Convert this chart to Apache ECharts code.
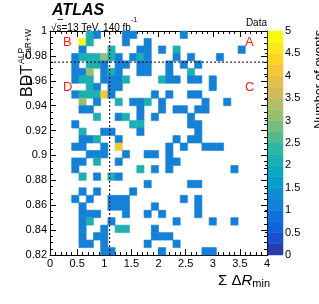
<!DOCTYPE html>
<html><head><meta charset="utf-8">
<script src="https://cdn.jsdelivr.net/npm/echarts@6/dist/echarts.min.js"></script>
<style>html,body{margin:0;padding:0;background:#fff}#c{width:319px;height:304px}</style>
</head><body><div id="c"></div>
<script>
// Binning of the 2D histogram
const xRange = [0, 4];
const yRange = [0.82, 1.0];
const nBinsX = 30;
const nBinsY = 30;
// Number of events per bin; rows from top (BDT = 1) to bottom (0.82), columns from ΣΔR = 0 to 4
const counts = [
[0,0,0,0,0,2,1,0,0,0,1,1,0,0,0,0,0,0,1,0,0,0,0,0,0,0,0,0,0,0],
[0,0,0,0,5,2,0,0,0,0,1,0,0,1,0,0,0,0,0,0,0,0,0,0,0,0,0,0,0,0],
[0,0,0,0,1,0,0,0,2,0,0,0,1,1,0,1,0,2,0,0,0,0,0,0,0,0,1,0,0,0],
[0,0,0,1,2,2,2,3,2,1,0,1,2,1,0,0,0,1,0,1,0,0,0,1,0,0,0,0,0,0],
[0,0,0,1,0,2,2,1,0,1,1,0,1,1,0,0,1,0,1,0,1,0,0,0,0,0,0,0,0,0],
[0,0,0,1,1,3,0,1,2,1,0,0,1,1,0,0,1,0,0,2,0,0,0,0,0,0,0,0,0,0],
[0,0,0,1,2,2,0,1,1,1,2,0,0,0,0,2,1,1,0,1,1,0,1,0,0,0,0,0,0,0],
[0,0,0,0,0,2,1,0,1,1,0,0,0,0,0,0,0,0,0,0,0,0,1,0,0,0,0,0,0,0],
[0,0,0,1,2,2,2,4,1,0,0,0,0,0,1,0,1,0,0,1,1,0,0,0,0,0,0,0,0,0],
[0,0,0,0,3,0,1,0,0,2,0,1,1,2,0,1,0,0,0,0,0,1,0,0,1,0,0,0,0,0],
[0,0,0,0,1,1,0,0,0,0,0,0,1,0,0,1,0,1,1,0,1,1,0,0,0,0,0,0,0,0],
[0,0,0,0,0,0,2,0,0,1,2,0,1,0,1,0,0,0,0,1,0,0,0,0,0,0,0,0,0,0],
[0,0,0,1,0,0,0,0,0,0,0,2,2,0,0,0,0,0,0,1,1,0,0,0,0,0,0,0,0,0],
[0,0,0,0,2,0,0,1,1,0,0,0,1,0,0,0,0,0,0,0,1,0,0,0,0,0,0,0,0,0],
[0,0,0,0,1,1,2,0,0,1,0,0,0,0,0,0,0,1,0,1,1,0,0,0,0,0,0,0,0,0],
[0,0,0,1,1,0,0,1,0,4,0,0,0,0,0,0,1,0,1,0,0,1,1,1,0,0,0,0,0,0],
[0,0,0,0,0,1,1,1,0,0,1,0,0,1,1,0,1,0,0,0,0,0,0,0,0,0,0,0,0,0],
[0,0,0,1,1,0,2,0,0,1,0,0,0,0,0,0,1,1,0,0,0,0,0,0,0,0,0,0,0,0],
[0,0,0,1,0,0,0,0,0,0,0,0,2,0,1,0,1,0,0,0,0,0,0,0,0,1,0,0,0,0],
[0,0,0,0,2,0,1,0,2,1,0,0,0,0,0,0,0,0,0,0,0,0,0,0,0,0,0,0,0,0],
[0,0,0,0,0,0,0,0,0,0,0,0,0,1,0,0,0,0,0,1,1,0,0,0,0,0,0,0,0,0],
[0,0,0,0,1,0,1,0,0,0,0,1,0,0,0,0,0,0,0,0,0,0,0,0,0,0,0,0,0,0],
[0,0,0,1,0,1,0,0,1,1,1,0,0,0,0,0,0,0,1,0,1,0,0,0,0,0,0,0,0,0],
[0,0,0,0,1,0,0,0,1,1,1,0,0,0,1,0,0,0,0,0,1,0,0,0,0,0,0,0,0,0],
[0,0,0,0,1,1,1,0,0,0,1,0,0,1,0,1,0,0,0,0,1,0,0,0,0,0,0,0,0,0],
[0,0,0,0,1,2,0,0,1,0,0,0,0,0,0,0,0,1,0,0,0,0,1,0,0,1,0,0,0,0],
[0,0,0,0,1,0,0,1,0,2,2,0,0,0,1,0,0,0,0,0,0,0,0,0,0,0,0,0,0,0],
[0,0,0,0,1,0,1,1,0,0,0,0,0,0,1,1,1,0,0,0,0,0,0,0,0,0,0,0,0,0],
[0,0,0,0,1,1,0,1,0,0,0,0,0,1,0,0,0,1,0,0,0,0,0,0,0,0,0,0,0,0],
[0,0,0,0,0,0,0,1,1,0,0,0,0,0,0,1,0,0,0,0,0,1,1,0,0,0,0,0,0,0]
];
// Region cuts
const cutX = 1.1;
const cutY = 0.975;
// Colour-bar contour levels (number of events)
const zLevels = [0,0.25,0.5,0.75,1,1.25,1.5,1.75,2,2.25,2.5,2.75,3,3.25,3.5,3.75,4,4.25,4.5,4.75,5];
const xTicks = [0,0.5,1,1.5,2,2.5,3,3.5,4];
const yTicks = [0.82,0.84,0.86,0.88,0.9,0.92,0.94,0.96,0.98,1];
const zTicks = [0,0.5,1,1.5,2,2.5,3,3.5,4,4.5,5];
const regionLabels = ['A','B','C','D'];

// ROOT kBird palette
const bStops = [0,0.125,0.25,0.375,0.5,0.625,0.75,0.875,1];
const bR = [0.2082,0.0592,0.0780,0.0232,0.1802,0.5301,0.8186,0.9956,0.9764];
const bG = [0.1664,0.3599,0.5041,0.6419,0.7178,0.7492,0.7328,0.7862,0.9832];
const bB = [0.5293,0.8684,0.8385,0.7914,0.6425,0.4662,0.3499,0.1968,0.0539];
function bird(t){
  t=Math.max(0,Math.min(1,t));
  let i=0; while(i<bStops.length-2 && t>bStops[i+1]) i++;
  const f=(t-bStops[i])/(bStops[i+1]-bStops[i]);
  const c=a=>Math.round(255*(a[i]+f*(a[i+1]-a[i])));
  return 'rgb('+c(bR)+','+c(bG)+','+c(bB)+')';
}
const nBands = zLevels.length-1;
// ROOT-style mapping of contour band -> palette index (255 colours)
function bandColor(k){
  const idx=Math.floor((k+0.99)*255/nBands);
  return bird(Math.min(254,idx)/254);
}
function colorFor(v){
  let k=0; while(k<nBands-1 && v>=zLevels[k+1]) k++;
  return bandColor(k);
}

const dx=(xRange[1]-xRange[0])/nBinsX, dy=(yRange[1]-yRange[0])/nBinsY;
const cells=[];
counts.forEach((row,j)=>row.forEach((c,i)=>{
  if(c>0) cells.push([xRange[0]+i*dx, yRange[1]-(j+1)*dy, c]);
}));
const bands=[];
for(let k=0;k<nBands;k++) bands.push([0, zLevels[k], zLevels[k+1], k]);

const FONT='"Liberation Sans", Arial, sans-serif';
const fmt = v => String(+v.toFixed(3));
const axisCommon = {
  axisLine:{onZero:false, lineStyle:{color:'#000',width:1}},
  axisTick:{inside:true, length:6, lineStyle:{color:'#000',width:1}},
  minorTick:{show:true, length:3, lineStyle:{color:'#000',width:1}},
  splitLine:{show:false},
};
const chart = echarts.init(document.getElementById('c'), null, {renderer:'canvas'});
chart.setOption({
  animation:false,
  backgroundColor:'#fff',
  grid:[{left:50, top:31, width:217, height:224, containLabel:false, outerBoundsMode:'none'},
        {left:268, top:31, width:15, height:224, containLabel:false, outerBoundsMode:'none'}],
  xAxis:[
    Object.assign({gridIndex:0,type:'value',min:xRange[0],max:xRange[1],interval:xTicks[1]-xTicks[0],position:'bottom',
      axisLabel:{color:'#000',fontSize:11,fontFamily:FONT,margin:3,formatter:fmt}}, axisCommon, {minorTick:Object.assign({},axisCommon.minorTick,{splitNumber:5})}),
    Object.assign({gridIndex:0,type:'value',min:xRange[0],max:xRange[1],interval:xTicks[1]-xTicks[0],position:'top',
      axisLabel:{show:false}}, axisCommon, {minorTick:Object.assign({},axisCommon.minorTick,{splitNumber:5})}),
    {gridIndex:1,type:'value',min:0,max:1,show:false}
  ],
  yAxis:[
    Object.assign({gridIndex:0,type:'value',min:yRange[0],max:yRange[1],interval:yTicks[1]-yTicks[0],position:'left',
      axisLabel:{color:'#000',fontSize:11,fontFamily:FONT,margin:3,formatter:fmt}}, axisCommon, {minorTick:Object.assign({},axisCommon.minorTick,{splitNumber:4})}),
    Object.assign({gridIndex:0,type:'value',min:yRange[0],max:yRange[1],interval:yTicks[1]-yTicks[0],position:'right',
      axisLabel:{show:false}}, axisCommon, {minorTick:Object.assign({},axisCommon.minorTick,{splitNumber:4})}),
    {gridIndex:1,type:'value',min:zTicks[0],max:zTicks[zTicks.length-1],interval:zTicks[1]-zTicks[0],position:'right',
      axisLine:{show:false}, axisTick:{inside:true,length:3,lineStyle:{color:'#000'}}, splitLine:{show:false},
      axisLabel:{color:'#000',fontSize:11,fontFamily:FONT,margin:2,formatter:fmt}}
  ],
  series:[
    {type:'custom', xAxisIndex:0, yAxisIndex:0, data:cells, encode:{x:0,y:1}, z:2,
      renderItem:function(params, api){
        const x0=api.value(0), y0=api.value(1), c=api.value(2);
        const p1=api.coord([x0, y0+dy]), p2=api.coord([x0+dx, y0]);
        const col=colorFor(c);
        return {type:'rect', shape:{x:p1[0],y:p1[1],width:p2[0]-p1[0],height:p2[1]-p1[1]},
          style:{fill:col, stroke:col, lineWidth:0.6}};
      }},
    {type:'line', xAxisIndex:0, yAxisIndex:0, data:[[cutX,yRange[0]],[cutX,yRange[1]]], symbol:'none', z:5,
      lineStyle:{color:'#000',width:1,type:[2,2]}},
    {type:'line', xAxisIndex:0, yAxisIndex:0, data:[[xRange[0],cutY],[xRange[1],cutY]], symbol:'none', z:5,
      lineStyle:{color:'#000',width:1,type:[2,2]}},
    {type:'custom', xAxisIndex:2, yAxisIndex:2, data:bands, encode:{x:0,y:[1,2]},
      renderItem:function(params, api){
        const lo=api.value(1), hi=api.value(2), k=api.value(3);
        const p1=api.coord([0,hi]), p2=api.coord([1,lo]);
        const col=bandColor(k);
        return {type:'rect', shape:{x:p1[0],y:p1[1],width:p2[0]-p1[0],height:p2[1]-p1[1]},
          style:{fill:col, stroke:col, lineWidth:0.5}};
      }}
  ],
  graphic:[
    {type:'text', left:52, top:3, style:{text:'ATLAS', font:'italic bold 16px '+FONT, fill:'#000'}},
    {type:'text', left:51, top:17, style:{text:'{a|√s=13 TeV, 140 fb}{b|-1}', fill:'#000',
      rich:{a:{fontSize:10,fontFamily:FONT,lineHeight:12,verticalAlign:'bottom'},b:{fontSize:7,fontFamily:FONT,lineHeight:16,verticalAlign:'top'}}}},
    {type:'line', shape:{x1:57.5,y1:19.5,x2:63,y2:19.5}, style:{stroke:'#000',lineWidth:0.8}},
    {type:'text', right:52, top:18, style:{text:'Data', font:'10px '+FONT, fill:'#000'}},
    {type:'text', left:245, top:36, style:{text:regionLabels[0], font:'13px '+FONT, fill:'#ff1a1a'}},
    {type:'text', left:63, top:36, style:{text:regionLabels[1], font:'13px '+FONT, fill:'#ff1a1a'}},
    {type:'text', left:245, top:81, style:{text:regionLabels[2], font:'13px '+FONT, fill:'#ff1a1a'}},
    {type:'text', left:63, top:81, style:{text:regionLabels[3], font:'13px '+FONT, fill:'#ff1a1a'}},
    {type:'text', x:270, y:281, style:{text:'{a|Σ Δ}{r|R}{s|min}', align:'right', verticalAlign:'middle', fill:'#000',
      rich:{a:{fontSize:15,fontFamily:FONT,lineHeight:16},r:{fontSize:15,fontFamily:FONT,fontStyle:'italic',lineHeight:16},
        s:{fontSize:11,fontFamily:FONT,lineHeight:4,verticalAlign:'bottom'}}}},
    {type:'group', x:20, y:29, rotation:Math.PI/2, children:[
      {type:'text', x:-36, y:0, style:{text:'BDT', font:'16px '+FONT, fill:'#000', align:'right', verticalAlign:'alphabetic'}},
      {type:'text', x:-35, y:-3, style:{text:'ALP', font:'8.5px '+FONT, fill:'#000', align:'left', verticalAlign:'alphabetic'}},
      {type:'text', x:0, y:4, style:{text:'CaR+W', font:'8.5px '+FONT, fill:'#000', align:'right', verticalAlign:'alphabetic'}}
    ]},
    {type:'group', x:313, y:30, rotation:Math.PI/2, children:[
      {type:'text', x:0, y:0, style:{text:'Number of events', font:'12.5px '+FONT, fill:'#000', align:'right', verticalAlign:'alphabetic'}}
    ]}
  ]
});
</script></body></html>
